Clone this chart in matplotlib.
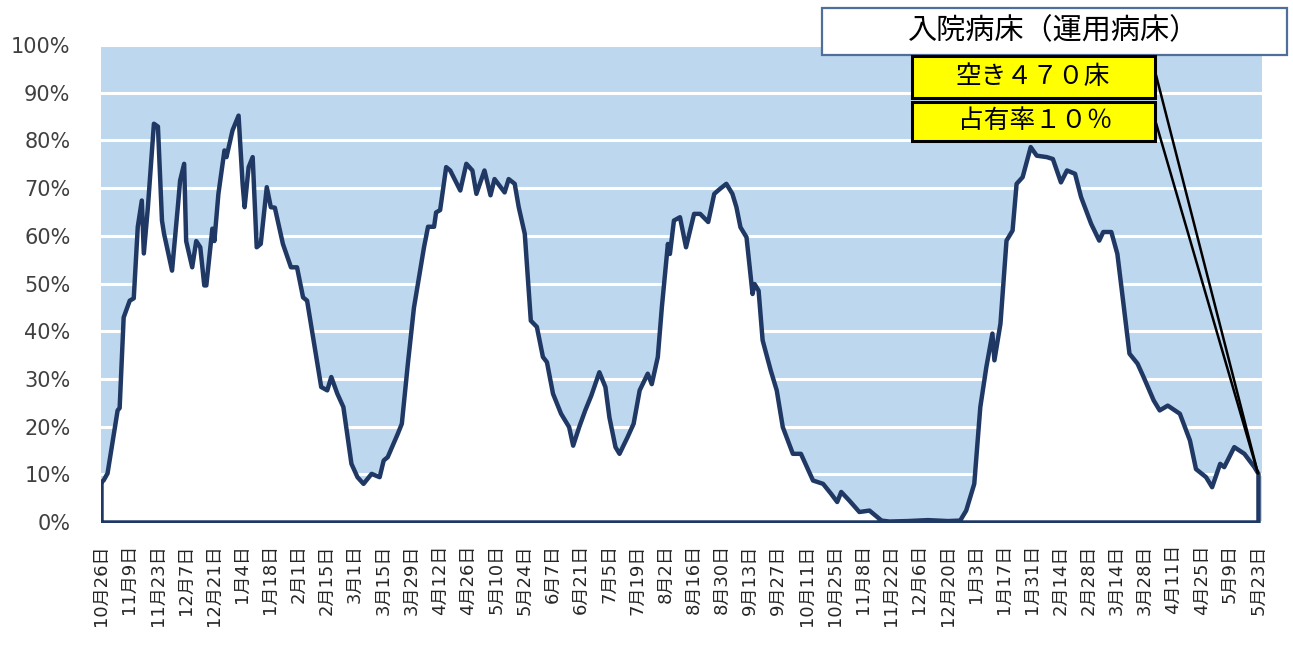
import matplotlib
matplotlib.use("Agg")
import matplotlib.pyplot as plt
from matplotlib.patches import Rectangle

plt.rcParams['font.family'] = ['DejaVu Sans', 'Noto Sans CJK JP']

# days since 2020-10-26 and bed occupancy (%)
days = [
    0, 1, 3, 8, 9, 11, 14, 16, 18, 20, 21, 23, 26, 28, 30, 31, 35, 38, 39, 41,
    42, 45, 47, 49, 51, 52, 55, 56, 58, 61, 62, 65, 68, 70, 71, 73, 75, 77, 79, 82,
    84, 86, 90, 94, 97, 100, 102, 109, 112, 114, 117, 120, 124, 127, 130, 134, 138, 140,
    142, 147, 149, 152, 155, 160, 162, 165, 166, 168, 171, 173, 178, 181, 184, 186,
    190, 193, 195, 200, 202, 205, 207, 210, 213, 216, 219, 221, 224, 228, 232, 234,
    237, 240, 243, 247, 250, 252, 255, 257, 261, 264, 267, 271, 273, 276, 278, 281,
    282, 284, 287, 290, 294, 297, 301, 304, 307, 310, 313, 315, 317, 320, 323, 324,
    326, 328, 332, 335, 338, 343, 347, 350, 353, 358, 362, 365, 367, 371, 376, 381,
    387, 391, 400, 410, 420, 426, 429, 433, 436, 439, 442, 443, 446, 449, 452, 454,
    457, 461, 464, 469, 472, 476, 479, 483, 486, 491, 495, 497, 501, 504, 507, 510,
    514, 517, 522, 525, 529, 535, 540, 543, 548, 551, 555, 557, 562, 567, 572, 574,
]
occupancy = [
    8.5, 8.8, 10.3, 23.5, 24.0, 43.0, 46.5, 47.0, 62.0, 67.5, 56.4, 66.0, 83.6, 83.0, 63.3, 60.6, 52.8, 66.8, 71.7, 75.2,
    59.0, 53.5, 59.0, 57.7, 49.7, 49.7, 61.6, 59.0, 68.9, 78.0, 76.6, 82.2, 85.3, 71.0, 66.1, 74.5, 76.6, 57.7, 58.4, 70.3,
    66.1, 66.0, 58.4, 53.5, 53.5, 47.2, 46.5, 28.4, 27.7, 30.5, 27.0, 24.2, 12.3, 9.5, 8.1, 10.2, 9.5, 13.0,
    13.7, 18.6, 20.7, 33.3, 45.0, 57.7, 62.0, 62.0, 65.0, 65.5, 74.5, 73.8, 69.6, 75.2, 73.8, 68.9,
    73.8, 68.6, 72.0, 69.2, 72.0, 71.0, 66.1, 60.5, 42.3, 41.0, 34.7, 33.6, 27.0, 22.8, 20.0, 16.1,
    20.0, 23.5, 26.6, 31.5, 28.4, 22.0, 15.8, 14.4, 17.9, 20.7, 27.7, 31.2, 29.0, 34.7, 45.1, 58.4,
    56.3, 63.3, 64.0, 57.7, 64.7, 64.7, 63.0, 68.9, 70.0, 71.0, 68.9, 66.1, 61.9, 59.8, 47.9, 50.0,
    48.6, 38.2, 31.9, 27.7, 20.0, 14.4, 14.4, 11.6, 8.8, 8.1, 6.0, 4.3, 6.4, 4.6, 2.2, 2.5,
    0.4, 0.2, 0.3, 0.5, 0.3, 0.4, 2.5, 8.1, 24.2, 32.6, 39.6, 34.0, 41.7, 59.1, 61.2, 71.0,
    72.4, 78.7, 76.9, 76.6, 76.2, 71.3, 73.8, 73.1, 68.2, 62.6, 59.1, 60.9, 60.9, 56.3, 45.9, 35.4,
    33.3, 30.5, 25.6, 23.5, 24.5, 22.8, 17.2, 11.2, 9.5, 7.4, 12.3, 11.6, 15.8, 14.4, 11.6, 10.2,
]

tick_labels = [
    "10月26日", "11月9日", "11月23日", "12月7日", "12月21日", "1月4日", "1月18日",
    "2月1日", "2月15日", "3月1日", "3月15日", "3月29日", "4月12日", "4月26日",
    "5月10日", "5月24日", "6月7日", "6月21日", "7月5日", "7月19日", "8月2日",
    "8月16日", "8月30日", "9月13日", "9月27日", "10月11日", "10月25日", "11月8日",
    "11月22日", "12月6日", "12月20日", "1月3日", "1月17日", "1月31日", "2月14日",
    "2月28日", "3月14日", "3月28日", "4月11日", "4月25日", "5月9日", "5月23日",
]
tick_days = [14 * i for i in range(len(tick_labels))]

title_text = "入院病床（運用病床）"
vacant_text = "空き４７０床"
rate_text = "占有率１０％"

W, H = 1293, 646
fig = plt.figure(figsize=(W / 100, H / 100), dpi=100)
fig.patch.set_facecolor('white')

ax = fig.add_axes([101 / W, 1 - 522 / H, (1262 - 101) / W, (522 - 45) / H])
ax.set_facecolor('#BDD7EE')
for s in ax.spines.values():
    s.set_visible(False)

ax.set_xlim(0, 576)
ax.set_ylim(0, 100)
ax.set_yticks(range(0, 101, 10))
ax.set_yticklabels([f"{v}%" for v in range(0, 101, 10)], fontsize=15, color='#404040')
ax.set_xticks(tick_days)
ax.set_xticklabels(tick_labels, rotation=90, fontsize=13, color='#262626')
ax.tick_params(axis='y', length=0, pad=22)
ax.tick_params(axis='x', length=0, pad=16)
ax.yaxis.grid(True, color='white', linewidth=2.2)
ax.set_axisbelow(True)

navy = '#203864'
ax.fill_between(days, occupancy, 0, facecolor='white', edgecolor=navy,
                linewidth=3.2, zorder=3)

# annotation boxes in figure pixels
def fig_box(x0, y0, x1, y1, face, edge, lw):
    r = Rectangle((x0 / W, 1 - y1 / H), (x1 - x0) / W, (y1 - y0) / H,
                  transform=fig.transFigure, facecolor=face, edgecolor=edge,
                  linewidth=lw, zorder=5)
    fig.patches.append(r)

fig_box(822, 8, 1287, 55, 'white', '#4F6F9A', 1.6)
fig_box(912, 56, 1155, 98, '#FFFF00', 'black', 2.2)
fig_box(912, 102, 1155, 141, '#FFFF00', 'black', 2.2)

fig.text(1054 / W, 1 - 31 / H, title_text, fontsize=21, ha='center', va='center',
         family=['Noto Sans CJK JP'], zorder=6)
fig.text(1033 / W, 1 - 77 / H, vacant_text, fontsize=18.5, ha='center', va='center',
         family=['Noto Sans CJK JP'], zorder=6)
fig.text(1035 / W, 1 - 121 / H, rate_text, fontsize=18.5, ha='center', va='center',
         family=['Noto Sans CJK JP'], zorder=6)

for y_px in (75, 123):
    ax.annotate('', xy=(days[-1], occupancy[-1]), xycoords='data',
                xytext=(1156 / W, 1 - y_px / H), textcoords='figure fraction',
                arrowprops=dict(arrowstyle='-', color='black', lw=1.8,
                                shrinkA=0, shrinkB=0), zorder=6)

fig.savefig('out.png', dpi=100)
